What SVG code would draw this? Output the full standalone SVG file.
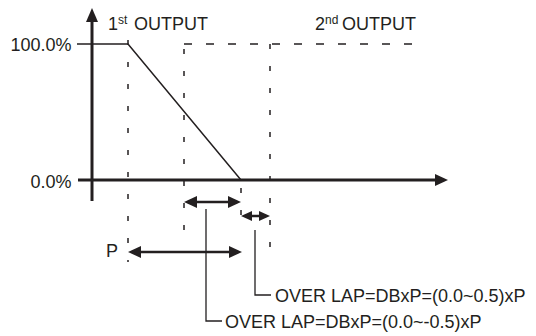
<svg xmlns="http://www.w3.org/2000/svg" width="536" height="336" viewBox="0 0 536 336">
<style>
text{font-family:"Liberation Sans",Arial,sans-serif;font-size:18px;fill:#231f20}
.ax{stroke:#231f20;stroke-width:3;fill:none}
.ln{stroke:#231f20;stroke-width:1.5;fill:none}
.vd{stroke:#231f20;stroke-width:1.5;stroke-dasharray:5 17;fill:none}
.hd{stroke:#231f20;stroke-width:1.5;stroke-dasharray:8 14;fill:none}
.dim{stroke:#231f20;stroke-width:2.5;fill:none}
.ld{stroke:#231f20;stroke-width:1.3;fill:none}
.hd2{fill:#231f20}
</style>
<rect width="536" height="336" fill="#fff"/>
<g id="axes">
<line class="ax" x1="92" y1="20" x2="92" y2="201"/>
<polygon class="hd2" points="92,8 86,22 98,22"/>
<line class="ax" x1="78" y1="180" x2="437" y2="180"/>
<polygon class="hd2" points="448,180 435,174 435,186"/>
</g>
<g id="guides">
<line class="vd" x1="128" y1="40" x2="128" y2="262"/>
<line class="vd" x1="184" y1="49" x2="184" y2="232"/>
<line class="vd" x1="241" y1="188" x2="241" y2="232"/>
<line class="vd" x1="270" y1="44" x2="270" y2="254"/>
<line class="hd" x1="184" y1="44" x2="414" y2="44"/>
</g>
<g id="curve">
<polyline class="ln" points="77,44 128,44 241,180"/>
</g>
<g id="labels">
<text x="71.5" y="51" text-anchor="end">100.0%</text>
<text x="71.5" y="188" text-anchor="end">0.0%</text>
<text x="106" y="257">P</text>
<text x="108" y="30">1<tspan font-size="12" dy="-6">st</tspan><tspan x="134" dy="6">OUTPUT</tspan></text>
<text x="315" y="30">2<tspan font-size="12" dy="-6">nd</tspan><tspan x="342" dy="6">OUTPUT</tspan></text>
<text x="275" y="302">OVER LAP=DBxP=(0.0~0.5)xP</text>
<text x="225" y="328">OVER LAP=DBxP=(0.0~-0.5)xP</text>
</g>
<g id="connectors">
<line class="dim" x1="194" y1="202" x2="231" y2="202"/>
<polygon class="hd2" points="184,202 197,196 197,208"/>
<polygon class="hd2" points="241,202 228,196 228,208"/>
<line class="dim" x1="249" y1="216" x2="262" y2="216"/>
<polygon class="hd2" points="241,216 252,211 252,221"/>
<polygon class="hd2" points="270,216 259,211 259,221"/>
<line class="dim" x1="138" y1="252" x2="232" y2="252"/>
<polygon class="hd2" points="128,252 141,246 141,258"/>
<polygon class="hd2" points="242,252 229,246 229,258"/>
<polyline class="ld" points="206,209 206,321 222,321"/>
<polyline class="ld" points="255,230 255,295 271,295"/>
</g>
</svg>
